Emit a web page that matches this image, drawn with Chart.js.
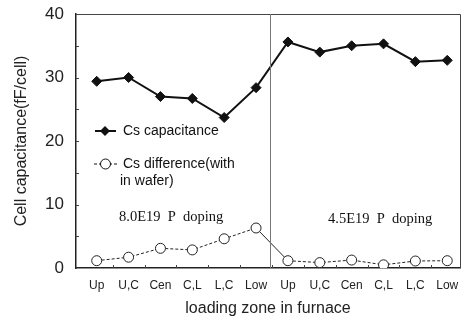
<!DOCTYPE html>
<html>
<head>
<meta charset="utf-8">
<script src="https://cdn.jsdelivr.net/npm/chart.js@4"></script>
<style>
  html, body { margin: 0; padding: 0; background: #fff; }
  #wrap { width: 466px; height: 324px; }
</style>
</head>
<body>
<div id="wrap"><canvas id="chart" width="466" height="324"></canvas></div>
<script>
const zones = ["Up", "U,C", "Cen", "C,L", "L,C", "Low", "Up", "U,C", "Cen", "C,L", "L,C", "Low"];
const csCapacitance = [29.4, 30.0, 27.0, 26.7, 23.7, 28.4, 35.6, 34.0, 35.0, 35.3, 32.5, 32.7];
const csDifference = [1.15, 1.7, 3.1, 2.85, 4.6, 6.3, 1.15, 0.85, 1.25, 0.5, 1.1, 1.15];
const yTicks = [0, 10, 20, 30, 40];
const groupLabels = ["8.0E19  P  doping", "4.5E19  P  doping"];

const idx = zones.map((_, i) => i);

// frame, legend, divider, inner ticks and doping notes
const extras = {
  id: "extras",
  afterDraw(chart) {
    const { ctx, chartArea: a, scales: { x, y } } = chart;
    ctx.save();

    // top and right frame
    ctx.strokeStyle = "#444";
    ctx.lineWidth = 1;
    ctx.beginPath();
    ctx.moveTo(a.left, Math.round(a.top) + 0.5);
    ctx.lineTo(Math.round(a.right) + 0.5, Math.round(a.top) + 0.5);
    ctx.lineTo(Math.round(a.right) + 0.5, a.bottom);
    ctx.stroke();

    // divider between the two doping groups
    const dx = Math.round(x.getPixelForValue(5.45)) + 0.5;
    ctx.strokeStyle = "#777";
    ctx.beginPath();
    ctx.moveTo(dx, a.top);
    ctx.lineTo(dx, a.bottom);
    ctx.stroke();

    // small inward ticks on y axis
    ctx.strokeStyle = "#444";
    for (let v = 5; v < 40; v += 5) {
      const py = Math.round(y.getPixelForValue(v)) + 0.5;
      ctx.beginPath();
      ctx.moveTo(a.left, py);
      ctx.lineTo(a.left + 3, py);
      ctx.stroke();
    }
    // small inward ticks on x axis
    for (let i = 0; i < 11; i++) {
      const px = Math.round(x.getPixelForValue(i + 0.5)) + 0.5;
      ctx.beginPath();
      ctx.moveTo(px, a.bottom);
      ctx.lineTo(px, a.bottom - 3);
      ctx.stroke();
    }

    // legend
    ctx.fillStyle = "#111";
    ctx.strokeStyle = "#111";
    ctx.lineWidth = 2;
    ctx.beginPath();
    ctx.moveTo(95, 131);
    ctx.lineTo(116, 131);
    ctx.stroke();
    ctx.beginPath();
    ctx.moveTo(105, 126); ctx.lineTo(110, 131); ctx.lineTo(105, 136); ctx.lineTo(100, 131);
    ctx.closePath();
    ctx.fill();

    ctx.lineWidth = 1;
    ctx.setLineDash([3, 2]);
    ctx.beginPath();
    ctx.moveTo(94, 164);
    ctx.lineTo(117, 164);
    ctx.stroke();
    ctx.setLineDash([]);
    ctx.fillStyle = "#fff";
    ctx.beginPath();
    ctx.arc(105.5, 164, 5, 0, Math.PI * 2);
    ctx.fill();
    ctx.stroke();

    ctx.fillStyle = "#111";
    ctx.font = "14px 'Liberation Sans', Arial, sans-serif";
    ctx.textBaseline = "middle";
    ctx.textAlign = "left";
    ctx.fillText("Cs capacitance", 123, 131);
    ctx.fillText("Cs difference(with", 123, 164);
    ctx.fillText("in wafer)", 120, 181);

    // doping notes
    ctx.font = "14.5px 'Liberation Serif', 'DejaVu Serif', serif";
    ctx.fillText(groupLabels[0], 119, 217);
    ctx.fillText(groupLabels[1], 328, 219);

    ctx.restore();
  }
};

new Chart(document.getElementById("chart"), {
  type: "line",
  data: {
    labels: zones,
    datasets: [
      {
        label: "Cs capacitance",
        data: idx.map(i => ({ x: i, y: csCapacitance[i] })),
        borderColor: "#111",
        backgroundColor: "#111",
        borderWidth: 2,
        pointStyle: "rectRot",
        pointRadius: 5,
        pointBorderWidth: 1
      },
      {
        label: "Cs difference(with in wafer)",
        data: idx.map(i => ({ x: i, y: csDifference[i] })),
        borderColor: "#222",
        backgroundColor: "#fff",
        borderWidth: 1,
        borderDash: [3, 2],
        segment: {
          borderDash: c => (c.p0DataIndex === 5 ? [] : [3, 2])
        },
        pointStyle: "circle",
        pointRadius: 5,
        pointBorderWidth: 1
      }
    ]
  },
  options: {
    responsive: false,
    animation: false,
    layout: { padding: { top: 14, right: 2, left: 8, bottom: 2 } },
    plugins: {
      legend: { display: false },
      tooltip: { enabled: false }
    },
    scales: {
      x: {
        type: "linear",
        min: -0.65,
        max: 11.4,
        afterBuildTicks: s => { s.ticks = idx.map(v => ({ value: v })); },
        afterFit: s => { s.height = 54; s.paddingLeft = 0; s.paddingRight = 0; },
        grid: { display: false, drawTicks: false },
        border: { color: "#222", width: 1.5 },
        ticks: {
          autoSkip: false,
          maxRotation: 0,
          padding: 10,
          color: "#222",
          font: { family: "'Liberation Sans', Arial, sans-serif", size: 12 },
          callback: v => zones[v]
        },
        title: {
          display: true,
          text: "loading zone in furnace",
          color: "#222",
          padding: { top: 2 },
          font: { family: "'Liberation Sans', Arial, sans-serif", size: 16 }
        }
      },
      y: {
        min: 0,
        max: 40,
        afterBuildTicks: s => { s.ticks = yTicks.map(v => ({ value: v })); },
        afterFit: s => { s.width = 68; s.paddingTop = 0; s.paddingBottom = 0; },
        grid: { display: false, drawTicks: false },
        border: { color: "#222", width: 1.5 },
        ticks: {
          padding: 12,
          color: "#222",
          font: { family: "'Liberation Sans', Arial, sans-serif", size: 17 }
        },
        title: {
          display: true,
          text: "Cell capacitance(fF/cell)",
          color: "#222",
          padding: { bottom: 4 },
          font: { family: "'Liberation Sans', Arial, sans-serif", size: 16 }
        }
      }
    }
  },
  plugins: [extras]
});
</script>
</body>
</html>
